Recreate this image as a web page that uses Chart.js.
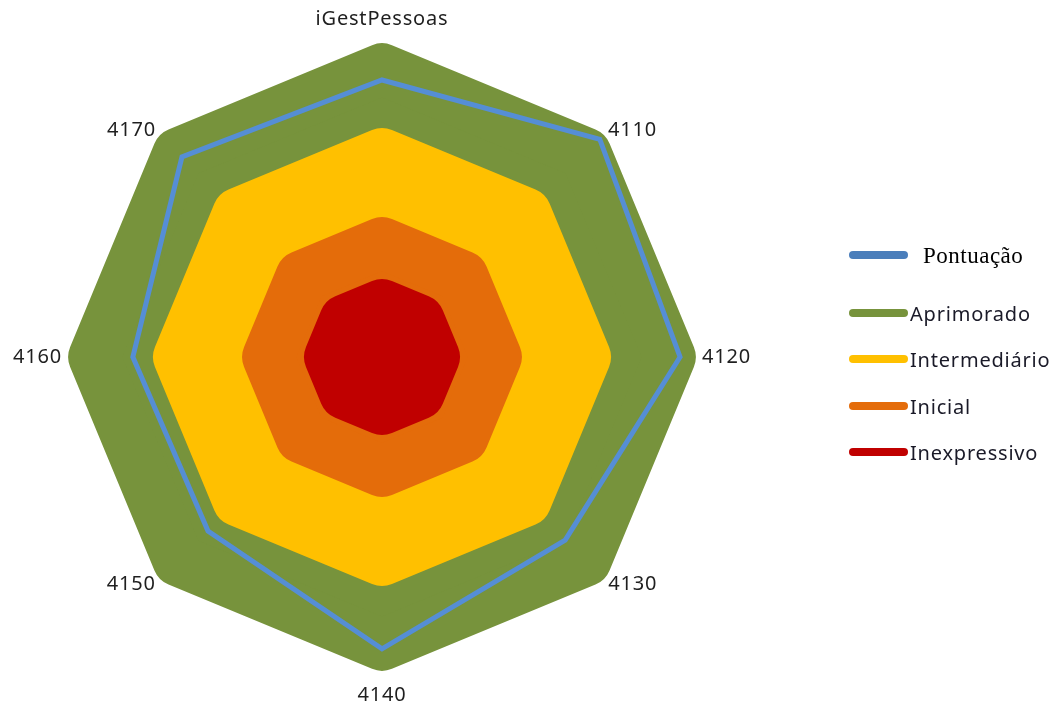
<!DOCTYPE html>
<html>
<head>
<meta charset="utf-8">
<script src="https://cdn.jsdelivr.net/npm/chart.js@4/dist/chart.umd.min.js"></script>
<style>
  html, body { margin: 0; padding: 0; background: #ffffff; }
  #wrap { width: 1064px; height: 709px; position: relative; }
</style>
</head>
<body>
<div id="wrap"><canvas id="radar"></canvas></div>
<script>
// Axis labels (clockwise from the top)
const axes = ['iGestPessoas', '4110', '4120', '4130', '4140', '4150', '4160', '4170'];

// Scores, in percent of the radial scale
const pontuacao    = [89.5, 99.5, 96.3, 83.7, 94.3, 79.5, 80.5, 91.4];

// Maturity bands
const aprimorado    = [93.0, 93.0, 93.0, 93.0, 93.0, 93.0, 93.0, 93.0];
const intermediario = [65.6, 65.6, 65.6, 65.6, 65.6, 65.6, 65.6, 65.6];
const inicial       = [36.8, 36.8, 36.8, 36.8, 36.8, 36.8, 36.8, 36.8];
const inexpressivo  = [16.8, 16.8, 16.8, 16.8, 16.8, 16.8, 16.8, 16.8];

const seriesNames  = ['Pontuação', 'Aprimorado', 'Intermediário', 'Inicial', 'Inexpressivo'];
const seriesColors = ['#558ED5', '#77933C', '#FFC000', '#E46C0A', '#C00000'];
const legendColors = ['#4A7EBB', '#77933C', '#FFC000', '#E46C0A', '#C00000'];

// distance between each axis label and the outer ring
const labelPadding = [27.5, 10, 10.5, 10.5, 27.5, 10.5, 10.5, 10];

const SPACING = '0.8px';

function band(label, data, color, order) {
  return {
    label, data, order,
    fill: 'origin',
    backgroundColor: color,
    borderColor: color,
    borderWidth: 52,
    borderJoinStyle: 'round',
    pointRadius: 0,
    pointHoverRadius: 0,
    tension: 0
  };
}

const sideLegend = {
  id: 'sideLegend',
  beforeUpdate(chart) { chart.ctx.letterSpacing = SPACING; },
  beforeDraw(chart) { chart.ctx.letterSpacing = SPACING; },
  afterDraw(chart) {
    const ctx = chart.ctx;
    const rows = [255, 313, 359, 406, 452];
    ctx.save();
    ctx.lineCap = 'round';
    ctx.lineWidth = 8;
    seriesNames.forEach((name, i) => {
      const y = rows[i];
      ctx.strokeStyle = legendColors[i];
      ctx.beginPath();
      ctx.moveTo(853, y);
      ctx.lineTo(904, y);
      ctx.stroke();
      ctx.textBaseline = 'alphabetic';
      ctx.textAlign = 'left';
      if (i === 0) {
        ctx.letterSpacing = '0.5px';
        ctx.font = '23px "Liberation Serif", "Times New Roman", serif';
        ctx.fillStyle = '#000000';
        ctx.fillText(name, 923, y + 8);
      } else {
        ctx.letterSpacing = SPACING;
        ctx.font = '20px "Noto Sans", sans-serif';
        ctx.fillStyle = '#1a1a28';
        ctx.fillText(name, 910, y + 8);
      }
    });
    ctx.restore();
  }
};

new Chart(document.getElementById('radar'), {
  type: 'radar',
  data: {
    labels: axes,
    datasets: [
      {
        label: seriesNames[0],
        data: pontuacao,
        order: 0,
        fill: false,
        borderColor: seriesColors[0],
        backgroundColor: seriesColors[0],
        borderWidth: 5,
        borderJoinStyle: 'miter',
        pointRadius: 0,
        pointHoverRadius: 0,
        tension: 0
      },
      band(seriesNames[1], aprimorado, seriesColors[1], 4),
      band(seriesNames[2], intermediario, seriesColors[2], 3),
      band(seriesNames[3], inicial, seriesColors[3], 2),
      band(seriesNames[4], inexpressivo, seriesColors[4], 1)
    ]
  },
  options: {
    responsive: true,
    maintainAspectRatio: false,
    animation: false,
    events: [],
    layout: { padding: { left: 0, right: 300, top: 18, bottom: 13 } },
    plugins: {
      legend: { display: false },
      tooltip: { enabled: false },
      title: { display: false }
    },
    scales: {
      r: {
        min: 0,
        max: 100,
        ticks: { display: false },
        grid: { display: false },
        angleLines: { display: false },
        pointLabels: {
          display: true,
          color: '#1f1f1f',
          font: { family: '"Noto Sans", sans-serif', size: 20, lineHeight: 0.1 },
          padding: (ctx) => labelPadding[ctx.index]
        }
      }
    }
  },
  plugins: [sideLegend]
});
</script>
</body>
</html>
